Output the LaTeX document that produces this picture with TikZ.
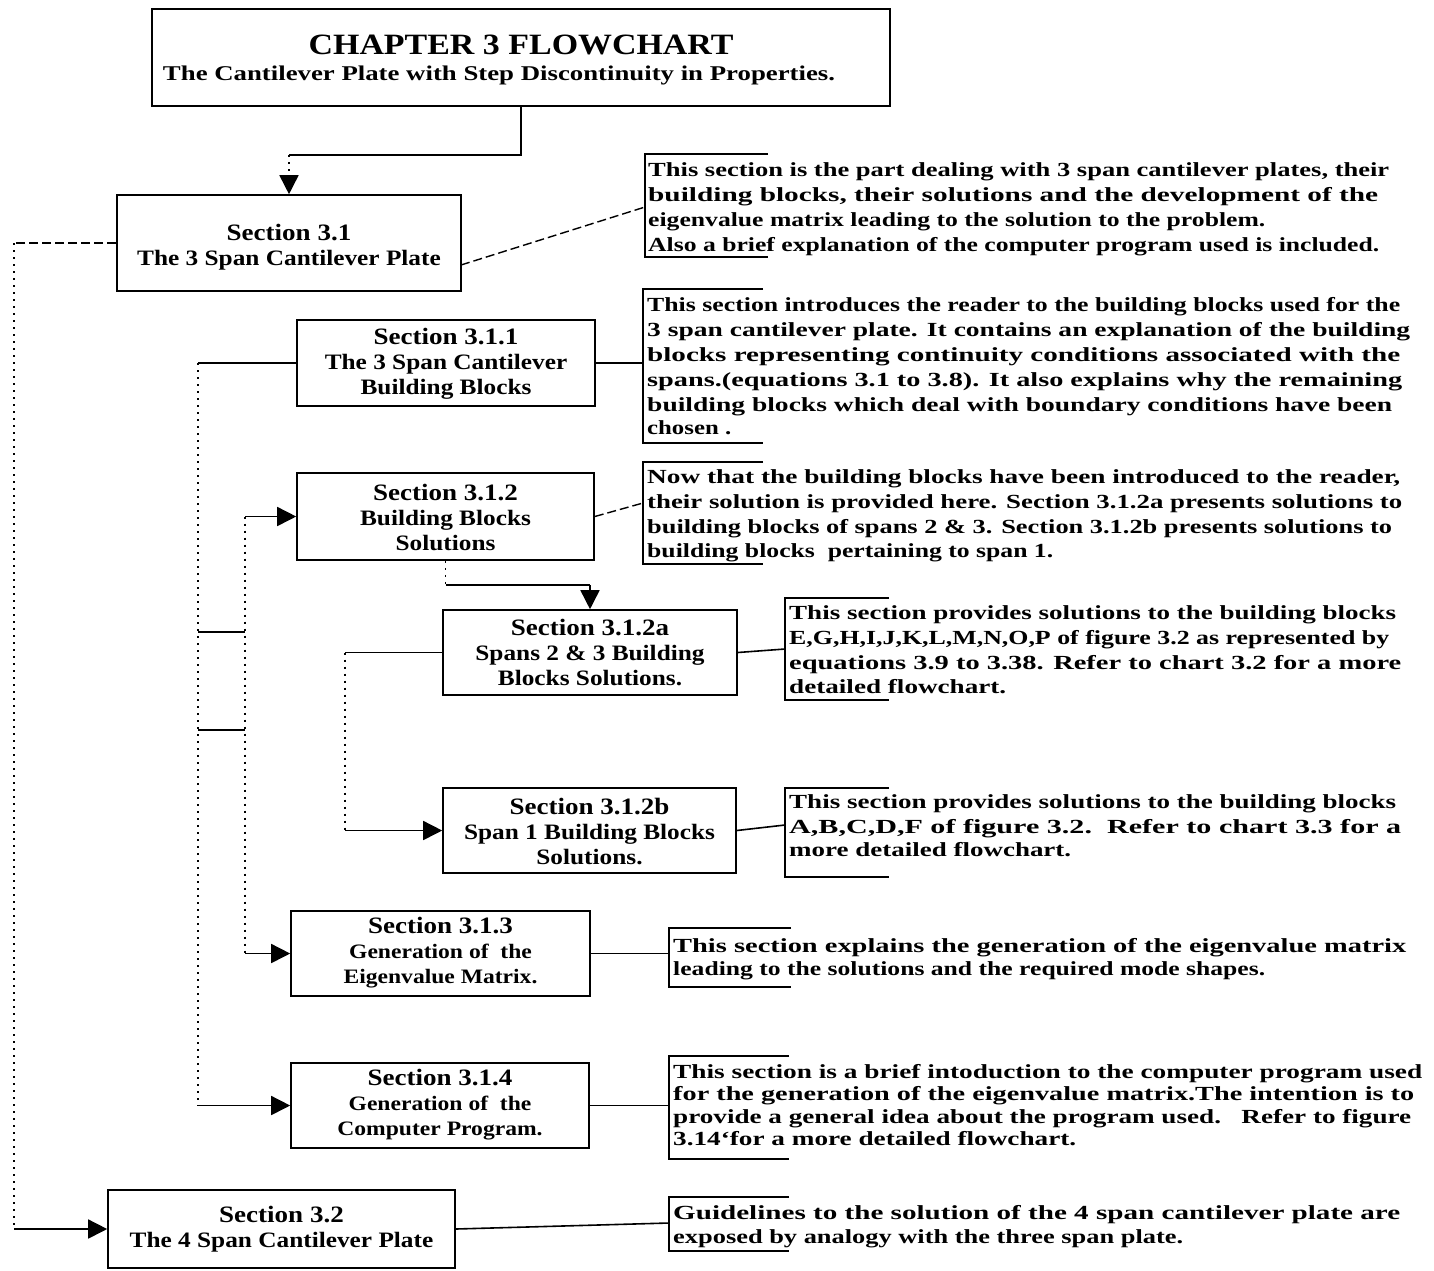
\documentclass[tikz,border=0pt]{standalone}
\usepackage{fontspec}
\usepackage{graphicx}
\setmainfont[FakeStretch=1.15]{Liberation Serif}
\usetikzlibrary{arrows.meta,calc}
\tikzset{
  box/.style={draw, line width=1.6pt, rectangle, inner sep=0pt},
  btxt/.style={inner sep=0pt, align=center, font=\bfseries\fontsize{22}{25}\selectfont},
  bsmall/.style={inner sep=0pt, align=center, font=\bfseries\fontsize{20.5}{25}\selectfont},
  dtxt/.style={anchor=base west, inner sep=0pt, font=\bfseries\fontsize{20}{24}\selectfont},
  conn/.style={line width=1.6pt},
  faint/.style={line width=1.3pt, dash pattern=on 2pt off 5pt},
  brokenline/.style={line width=1.4pt, dash pattern=on 9pt off 4pt},
  tip/.style={-{Triangle[length=19pt,width=19pt]}},
  brk/.style={line width=1.6pt}
}
\newcommand\jl[5]{\node[dtxt] (#1) at (#2,#3) {\resizebox{#4pt}{\height}{#5}};}
\newcommand\brkt[4]{\draw[brk] (#1+#4,#2) -- (#1,#2) -- (#1,#3) -- (#1+#4,#3);}
\newcommand\sechd[1]{{\fontsize{23.5}{25}\selectfont #1}}
\begin{document}
\begin{tikzpicture}[x=1pt,y=-1pt]
\useasboundingbox (0,0) rectangle (1434,1270);
\fill[white] (0,0) rectangle (1434,1270);

% ---- boxes ----
\node[box, minimum width=738pt, minimum height=97pt] (top) at (521,57.5) {};
\node[btxt] (topt) at (521,60)
  {{\fontsize{29.5}{30}\selectfont CHAPTER 3 FLOWCHART}\\[1pt]{\fontsize{21}{24}\selectfont\hspace*{-44pt}\resizebox{672pt}{\height}{The Cantilever Plate with Step Discontinuity in Properties.}}};
\node[box, minimum width=344pt, minimum height=96pt] (s31) at (289,243) {};
\node[btxt] (s31t) at (289,247.5) {\sechd{Section 3.1}\\The 3 Span Cantilever Plate};
\node[box, minimum width=298pt, minimum height=86pt] (s311) at (446,363) {};
\node[btxt] (s311t) at (446,364) {\sechd{Section 3.1.1}\\The 3 Span Cantilever\\Building Blocks};
\node[box, minimum width=297pt, minimum height=87pt] (s312) at (445.5,516.5) {};
\node[btxt] (s312t) at (445.5,517) {\sechd{Section 3.1.2}\\Building Blocks\\Solutions};
\node[box, minimum width=294pt, minimum height=85pt] (s312a) at (590,652.5) {};
\node[btxt] (s312at) at (590,652.5) {\sechd{Section 3.1.2a}\\Spans 2 \& 3 Building\\Blocks Solutions.};
\node[box, minimum width=293pt, minimum height=85pt] (s312b) at (589.5,830.5) {};
\node[btxt] (s312bt) at (589.5,831) {\sechd{Section 3.1.2b}\\Span 1 Building Blocks\\Solutions.};
\node[box, minimum width=299pt, minimum height=85pt] (s313) at (440.5,953.5) {};
\node[bsmall] (s313t) at (440.5,953) {\sechd{Section 3.1.3}\\Generation of\ \ the\\Eigenvalue Matrix.};
\node[box, minimum width=298pt, minimum height=85pt] (s314) at (440,1105.5) {};
\node[bsmall] (s314t) at (440,1105) {\sechd{Section 3.1.4}\\Generation of\ \ the\\Computer Program.};
\node[box, minimum width=347pt, minimum height=78pt] (s32) at (281.5,1229) {};
\node[btxt] (s32t) at (281.5,1229) {\sechd{Section 3.2}\\The 4 Span Cantilever Plate};

% ---- descriptions ----
\jl{d1a}{648}{176}{741}{This section is the part dealing with 3 span cantilever plates, their}
\jl{d1b}{648}{201}{730}{building blocks, their solutions and the development of the}
\jl{d1c}{648}{226}{617}{eigenvalue matrix leading to the solution to the problem.}
\jl{d1d}{648}{251}{731}{Also a brief explanation of the computer program used is included.}
\brkt{645}{154}{257}{123}

\jl{d2a}{647}{311}{753}{This section introduces the reader to the building blocks used for the}
\jl{d2b}{647}{336}{763}{3 span cantilever plate. It contains an explanation of the building}
\jl{d2c}{647}{361}{753}{blocks representing continuity conditions associated with the}
\jl{d2d}{647}{386}{755}{spans.(equations 3.1 to 3.8). It also explains why the remaining}
\jl{d2e}{647}{411}{745}{building blocks which deal with boundary conditions have been}
\jl{d2f}{647}{434}{84}{chosen .}
\brkt{643}{289}{443}{120}

\jl{d3a}{647}{483}{753}{Now that the building blocks have been introduced to the reader,}
\jl{d3b}{647}{508}{755}{their solution is provided here. Section 3.1.2a presents solutions to}
\jl{d3c}{647}{533}{745}{building blocks of spans 2 \& 3. Section 3.1.2b presents solutions to}
\jl{d3d}{647}{557}{406}{building blocks\ \ pertaining to span 1.}
\brkt{643}{462}{564}{120}

\jl{d4a}{789}{619}{607}{This section provides solutions to the building blocks}
\jl{d4b}{789}{644}{600}{E,G,H,I,J,K,L,M,N,O,P of figure 3.2 as represented by}
\jl{d4c}{789}{669}{612}{equations 3.9 to 3.38. Refer to chart 3.2 for a more}
\jl{d4d}{789}{693}{217}{detailed flowchart.}
\brkt{785}{598}{700}{104}

\jl{d5a}{789}{808}{607}{This section provides solutions to the building blocks}
\jl{d5b}{789}{833}{612}{A,B,C,D,F of figure 3.2.\ \ Refer to chart 3.3 for a}
\jl{d5c}{789}{856}{282}{more detailed flowchart.}
\brkt{785}{788}{877}{104}

\jl{d6a}{673}{952}{733}{This section explains the generation of the eigenvalue matrix}
\jl{d6b}{673}{975}{592}{leading to the solutions and the required mode shapes.}
\brkt{669}{928}{987}{122}

\jl{d7a}{673}{1078}{749}{This section is a brief intoduction to the computer program used}
\jl{d7b}{673}{1100}{741}{for the generation of the eigenvalue matrix.The intention is to}
\jl{d7c}{673}{1123}{738}{provide a general idea about the program used.\ \ \ Refer to figure}
\jl{d7d}{673}{1145}{403}{3.14`for a more detailed flowchart.}
\brkt{669}{1056}{1159}{120}

\jl{d8a}{673}{1219}{727}{Guidelines to the solution of the 4 span cantilever plate are}
\jl{d8b}{673}{1243}{510}{exposed by analogy with the three span plate.}
\brkt{669}{1197}{1251}{120}

% ---- coordinates ----
\coordinate (j1) at (521,155);
\coordinate (j2) at (289,155);
\coordinate (j3) at (289,180);
\coordinate (t1) at (14,243);
\coordinate (t2) at (14,1229);
\coordinate (s31r) at (461,265);
\coordinate (p1) at (645,207);
\coordinate (p2) at (643,363);
\coordinate (p3) at (643,503);
\coordinate (p4) at (785,649);
\coordinate (p5) at (785,825);
\coordinate (p6) at (669,953.5);
\coordinate (p7) at (669,1105.5);
\coordinate (p8) at (669,1223);
\coordinate (v1a) at (198,363);
\coordinate (v1b) at (198,632);
\coordinate (v1c) at (198,730);
\coordinate (v1d) at (198,1105.5);
\coordinate (v2a) at (245,516.5);
\coordinate (v2b) at (245,632);
\coordinate (v2c) at (245,730);
\coordinate (v2d) at (245,953.5);
\coordinate (v3a) at (345,652.5);
\coordinate (v3b) at (345,830.5);
\coordinate (k1) at (445.5,585);
\coordinate (k2) at (590,585);

% ---- connectors ----
\draw[conn] (top.south) -- (j1) -- (j2);
\draw[faint] (j2) -- (j3);
\draw[conn,tip] (j3) -- (s31.north);

\draw[brokenline] (s31.west) -- (t1);
\draw[faint] (t1) -- (t2);
\draw[conn,tip] (t2) -- (s32.west);

\draw[brokenline] (s31r) -- (p1);
\draw[conn] (s311.east) -- (p2);
\draw[brokenline] (s312.east) -- (p3);
\draw[conn] (s312a.east) -- (p4);
\draw[conn] (s312b.east) -- (p5);
\draw[conn] (s313.east) -- (p6);
\draw[conn] (s314.east) -- (p7);
\draw[conn] (s32.east) -- (p8);

\draw[conn] (v1a) -- (s311.west);
\draw[faint] (v1a) -- (v1d);
\draw[conn] (v1b) -- (v2b);
\draw[conn] (v1c) -- (v2c);
\draw[faint] (v2a) -- (v2d);
\draw[conn,tip] (v2a) -- (s312.west);
\draw[conn,tip] (v2d) -- (s313.west);
\draw[conn,tip] (v1d) -- (s314.west);
\draw[faint] (v3a) -- (v3b);
\draw[conn] (v3a) -- (s312a.west);
\draw[conn,tip] (v3b) -- (s312b.west);
\draw[faint] (s312.south) -- (k1);
\draw[conn] (k1) -- (k2);
\draw[conn,tip] (k2) -- (s312a.north);
\end{tikzpicture}
\end{document}
